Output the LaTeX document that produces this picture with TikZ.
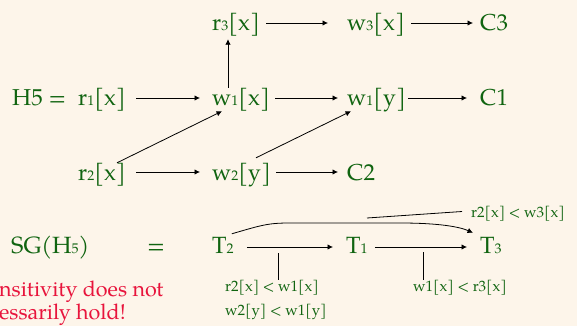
\documentclass[tikz,border=0pt]{standalone}
\usepackage{fontspec}
\setmainfont{TeX Gyre Pagella}
\usetikzlibrary{arrows.meta}
\definecolor{bg}{HTML}{FDF5EA}
\definecolor{grn}{RGB}{16,100,16}
\definecolor{rd}{RGB}{232,20,60}
\newcommand\sd[1]{{\fontsize{14}{15}\selectfont #1}}
\begin{document}
\begin{tikzpicture}[x=1pt,y=-1pt,
  main/.style={inner sep=0pt, text=grn, font=\fontsize{23}{26}\selectfont, text height=19pt, text depth=3pt, anchor=base west},
  sgn/.style={inner sep=0pt, text=grn, font=\fontsize{23.5}{26}\selectfont, text height=17pt, text depth=5pt, anchor=base west},
  lab/.style={inner sep=0pt, text=grn, font=\fontsize{15}{17}\selectfont, text height=11pt, text depth=4pt, anchor=base west},
  red/.style={inner sep=0pt, text=rd, font=\fontsize{21.5}{24}\selectfont, anchor=base west},
  arr/.style={-{Latex[length=5.5pt,width=5.5pt]}, line width=0.8pt, black},
  thin/.style={line width=0.8pt, black}]
\fill[bg] (0,0) rectangle (577,326);
\useasboundingbox (0,0) rectangle (577,326);
% history
\node[main] (r3) at (212,31) {r\sd{3}[x]};
\node[main] (w3) at (347,31) {w\sd{3}[x]};
\node[main] (c3) at (480,31) {C3};
\node[main] (h5) at (12,106) {H5 =};
\node[main] (r1) at (78,106) {r\sd{1}[x]};
\node[main] (w1x) at (212,106) {w\sd{1}[x]};
\node[main] (w1y) at (347,106) {w\sd{1}[y]};
\node[main] (c1) at (480,106) {C1};
\node[main] (r2) at (78,180) {r\sd{2}[x]};
\node[main] (w2) at (212,180) {w\sd{2}[y]};
\node[main] (c2) at (347,180) {C2};
\draw[arr, shorten <=6pt, shorten >=19pt] (r3.east) -- (w3.west);
\draw[arr, shorten <=6pt, shorten >=7pt] (w3.east) -- (c3.west);
\draw[arr, shorten <=10pt, shorten >=12pt] (r1.east) -- (w1x.west);
\draw[arr, shorten <=5pt, shorten >=9pt] (w1x.east) -- (w1y.west);
\draw[arr, shorten <=2pt, shorten >=13pt] (w1y.east) -- (c1.west);
\draw[arr, shorten <=10pt, shorten >=12pt] (r2.east) -- (w2.west);
\draw[arr, shorten <=5pt, shorten >=9pt] (w2.east) -- (c2.west);
\draw[arr] ([xshift=16pt,yshift=-1pt]w1x.north west) -- ([xshift=16pt,yshift=-5pt]r3.south west);
\draw[arr] ([xshift=39pt,yshift=-2pt]r2.north west) -- ([xshift=10pt,yshift=-2pt]w1x.south west);
\draw[arr] ([xshift=44pt,yshift=3pt]w2.north west) -- ([xshift=4pt,yshift=-2pt]w1y.south west);
% serialization graph
\node[sgn] (sg) at (11,253) {SG(H\sd{5})};
\node[sgn] (eq) at (147,253) {=};
\node[sgn] (t2) at (212,253) {T\sd{2}};
\node[sgn] (t1) at (346,253) {T\sd{1}};
\node[sgn] (t3) at (480,253) {T\sd{3}};
\draw[arr, shorten <=13pt, shorten >=13pt] (t2.east) -- (t1.west);
\draw[arr, shorten <=7pt, shorten >=13pt] (t1.east) -- (t3.west);
\draw[arr] ([xshift=-2pt,yshift=2pt]t2.north east) .. controls (262,225) and (268,223) .. (290,223)
  -- (400,223) .. controls (440,223) and (460,227) .. ([xshift=-7pt,yshift=3pt]t3.north west);
\node[lab] (l3) at (471,217) {r2[x] < w3[x]};
\coordinate (k3) at (367,218);
\draw[thin] (k3) -- ([xshift=-9pt,yshift=2pt]l3.west);
\node[lab] (l1) at (225,291) {r2[x] < w1[x]};
\node[lab] (l2) at (225,315) {w2[y] < w1[y]};
\node[lab] (l4) at (413,291) {w1[x] < r3[x]};
\coordinate (k1) at (278,253);
\coordinate (k2) at (423,252);
\draw[thin] (k1) -- (k1 |- l1.north);
\draw[thin] (k2) -- (k2 |- l4.north);
\node[red] (n1) at (-1,296) {nsitivity does not};
\node[red] (n2) at (-1,319) {essarily hold!};
\end{tikzpicture}
\end{document}
